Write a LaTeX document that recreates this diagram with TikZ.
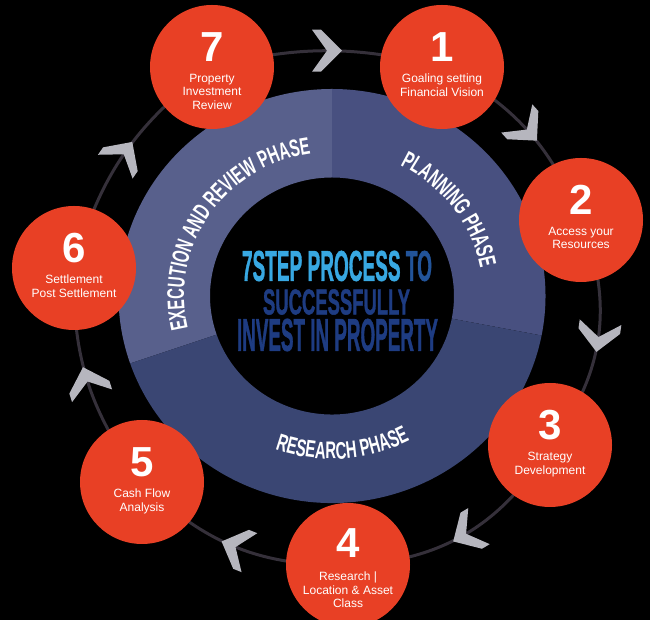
\documentclass[tikz,border=0pt]{standalone}
\usepackage{fontspec}
\setmainfont{Liberation Sans}
\newfontfamily\execfont{Liberation Sans}[FakeStretch=0.62]
\newfontfamily\planfont{Liberation Sans}[FakeStretch=0.63]
\newfontfamily\resfont{Liberation Sans}[FakeStretch=0.62]
\newfontfamily\heavyfont{Liberation Sans}[FakeBold=1.5]
\usepackage{graphicx}
\usetikzlibrary{decorations.text,decorations.markings}
\pgfdeclarelayer{back}
\pgfdeclarelayer{mid}
\pgfsetlayers{back,mid,main}
\definecolor{stepred}{HTML}{E84025}
\definecolor{execcol}{HTML}{58608C}
\definecolor{plancol}{HTML}{485080}
\definecolor{rescol}{HTML}{3A4673}
\definecolor{conncol}{HTML}{35303A}
\definecolor{chevcol}{HTML}{B6B6BE}
\definecolor{lightblue}{HTML}{38A8E2}
\definecolor{navy}{HTML}{1E3C82}
\definecolor{toblue}{HTML}{22549A}
\tikzset{
  stepcirc/.style={circle, fill=stepred, minimum size=124pt, inner sep=0pt},
  stepnum/.style={text=white, font=\bfseries\fontsize{42}{42}\selectfont, inner sep=0pt},
  steptext/.style={text=white, font=\fontsize{12}{13.5}\selectfont, align=center, inner sep=0pt, anchor=north},
  conn/.style={draw=conncol, line width=3pt, postaction={decorate},
    decoration={markings, mark=at position 0.5 with {\fill[chevcol] (-15pt,21pt) -- (-6pt,21pt) -- (15pt,0pt) -- (-6pt,-21pt) -- (-15pt,-21pt) -- (0pt,0pt) -- cycle;}}},
  titleline/.style={inner sep=0pt, font=\heavyfont\bfseries},
  ringlabel/.style={decorate, decoration={text along path, text align=center, text color=white, text={#1}}}
}
\begin{document}
\begin{tikzpicture}[x=1pt,y=1pt]
\useasboundingbox (0,0) rectangle (650,620);
\begin{pgfonlayer}{back}
\fill[black] (0,0) rectangle (650,620);
\end{pgfonlayer}

% step circles
\node[stepcirc] (n7) at (212,553) {};
\node[stepcirc] (n1) at (442,553) {};
\node[stepcirc] (n2) at (581,400) {};
\node[stepcirc] (n3) at (550,175) {};
\node[stepcirc] (n4) at (348,55) {};
\node[stepcirc] (n5) at (142,138) {};
\node[stepcirc] (n6) at (74,352) {};

\node[stepnum] (d7) at (212,573) {7};
\node[stepnum] (d1) at (442,573) {1};
\node[stepnum] (d2) at (581,420) {2};
\node[stepnum] (d3) at (550,195) {3};
\node[stepnum] (d4) at (348,77) {4};
\node[stepnum] (d5) at (142,158) {5};
\node[stepnum] (d6) at (74,372) {6};

\node[steptext] (t7) at (212,546) {Property\\Investment\\Review};
\node[steptext] (t1) at (442,546) {Goaling setting\\Financial Vision};
\node[steptext] (t2) at (581,393) {Access your\\Resources};
\node[steptext] (t3) at (550,168) {Strategy\\Development};
\node[steptext] (t4) at (348,48) {Research |\\Location \& Asset\\Class};
\node[steptext] (t5) at (142,131) {Cash Flow\\Analysis};
\node[steptext] (t6) at (74,345) {Settlement\\Post Settlement};

\begin{pgfonlayer}{mid}
\begin{scope}[shift={(332,324)}]
  \fill[execcol] (90:213.5pt and 207pt) arc[start angle=90, end angle=199, x radius=213.5pt, y radius=207pt]
     -- (199:122pt and 118.5pt) arc[start angle=199, end angle=90, x radius=122pt, y radius=118.5pt] -- cycle;
  \fill[plancol] (-11:213.5pt and 207pt) arc[start angle=-11, end angle=90, x radius=213.5pt, y radius=207pt]
     -- (90:122pt and 118.5pt) arc[start angle=90, end angle=-11, x radius=122pt, y radius=118.5pt] -- cycle;
  \fill[rescol] (-161:213.5pt and 207pt) arc[start angle=-161, end angle=-11, x radius=213.5pt, y radius=207pt]
     -- (-11:122pt and 118.5pt) arc[start angle=-11, end angle=-161, x radius=122pt, y radius=118.5pt] -- cycle;
  \path[ringlabel={|\execfont\bfseries\fontsize{24}{24}\selectfont|EXECUTION AND REVIEW PHASE}]
     (226:148pt and 144pt) arc[start angle=226, end angle=66, x radius=148pt, y radius=144pt];
  \path[ringlabel={|\planfont\bfseries\fontsize{24}{24}\selectfont|PLANNING PHASE}]
     (106.5:151pt and 146.5pt) arc[start angle=106.5, end angle=-33.5, x radius=151pt, y radius=146.5pt];
  \path[ringlabel={|\resfont\bfseries\fontsize{24}{24}\selectfont|RESEARCH PHASE}]
     (-156:168pt and 163pt) arc[start angle=-156, end angle=-16, x radius=168pt, y radius=163pt];
\end{scope}
\draw[conn] (n7.center) to[bend left=14] (n1.center);
\draw[conn] (n1.center) to[bend left=20] (n2.center);
\draw[conn] (n2.center) to[bend left=30] (n3.center);
\draw[conn] (n3.center) to[bend left=29] (n4.center);
\draw[conn] (n4.center) to[bend left=23] (n5.center);
\draw[conn] (n5.center) to[bend left=19] (n6.center);
\draw[conn] (n6.center) to[bend left=19] (n7.center);
\end{pgfonlayer}

% centre title
\node[titleline] (title1) at (337,354) {\resizebox{190pt}{30pt}{\color{lightblue}7STEP PROCESS \color{toblue}TO}};
\node[titleline, text=navy] (title2) at (336.5,318) {\resizebox{147pt}{25pt}{SUCCESSFULLY}};
\node[titleline, text=navy] (title3) at (337.5,285) {\resizebox{201pt}{32pt}{INVEST IN PROPERTY}};
\end{tikzpicture}
\end{document}
